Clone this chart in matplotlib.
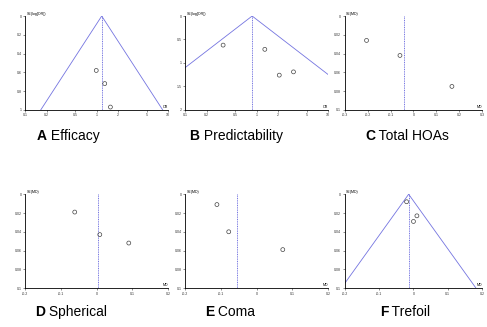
import numpy as np
import matplotlib
matplotlib.use("Agg")
import matplotlib.pyplot as plt

plt.rcParams['font.family'] = ['Liberation Sans', 'DejaVu Sans']

# ---- data ----
# A Efficacy (OR, log x)
a_or = [0.99, 1.30, 1.56]
a_se = [0.58, 0.72, 0.97]
a_pool = 1.18
# B Predictability (OR, log x)
b_or = [0.34, 1.30, 2.07, 3.27]
b_se = [0.62, 0.71, 1.26, 1.19]
b_pool = 0.865
# C Total HOAs (MD)
c_md = [-0.205, -0.059, 0.168]
c_se = [0.026, 0.042, 0.075]
c_pool = -0.043
# D Spherical (MD)
d_md = [-0.061, 0.009, 0.090]
d_se = [0.019, 0.043, 0.052]
d_pool = 0.003
# E Coma (MD)
e_md = [-0.111, -0.078, 0.073]
e_se = [0.011, 0.040, 0.059]
e_pool = -0.056
# F Trefoil (MD)
f_md = [-0.020, 0.010, 0.000]
f_se = [0.008, 0.023, 0.029]
f_pool = -0.014

or_ticks = [0.1, 0.2, 0.5, 1, 2, 5, 10]
or_labels = ['0.1', '0.2', '0.5', '1', '2', '5', '10']

blue = '#7474e0'

fig = plt.figure(figsize=(4.87, 3.27), dpi=100)


def funnel_ax(rect, xs, ses, pool, ymax, yticks, ylabel, xlim, xticks, xlabels,
              xname, logx=False, funnel=False):
    ax = fig.add_axes(rect)
    if logx:
        ax.set_xscale('log')
    ax.set_xlim(*xlim)
    ax.set_ylim(ymax, 0)
    if funnel:
        s = np.array([0, ymax])
        if logx:
            ax.plot(pool * np.exp(-1.96 * s), s, color=blue, lw=0.6)
            ax.plot(pool * np.exp(1.96 * s), s, color=blue, lw=0.6)
        else:
            ax.plot(pool - 1.96 * s, s, color=blue, lw=0.6)
            ax.plot(pool + 1.96 * s, s, color=blue, lw=0.6)
    ax.plot([pool, pool], [0, ymax], color=blue, lw=0.7, ls=(0, (1, 0.8)))
    ax.scatter(xs, ses, s=8, facecolors='none', edgecolors='#444444', linewidths=0.5,
               zorder=3, clip_on=False)
    ax.set_xticks(xticks)
    ax.set_xticklabels(xlabels)
    ax.minorticks_off()
    ax.set_yticks(yticks)
    ax.set_yticklabels([('%g' % v) for v in yticks])
    ax.tick_params(labelsize=2.6, length=1.5, width=0.4, pad=1, colors='#333333')
    for sp in ['top', 'right']:
        ax.spines[sp].set_visible(False)
    for sp in ['left', 'bottom']:
        ax.spines[sp].set_linewidth(0.6)
    ax.text(0.01, 1.0, ylabel, transform=ax.transAxes, fontsize=2.6, va='bottom', ha='left')
    ax.text(1.0, 0.01, xname, transform=ax.transAxes, fontsize=2.6, va='bottom', ha='right')
    return ax


w, h = 0.294, 0.287
top_b, bot_b = 0.664, 0.119
md_ticks = [0, 0.02, 0.04, 0.06, 0.08, 0.1]

funnel_ax([0.0513, top_b, w, h], a_or, a_se, a_pool, 1.0, [0, 0.2, 0.4, 0.6, 0.8, 1],
          'SE(log[OR])', (0.1, 10), or_ticks, or_labels, 'OR', logx=True, funnel=True)
funnel_ax([0.380, top_b, w, h], b_or, b_se, b_pool, 2.0, [0, 0.5, 1, 1.5, 2],
          'SE(log[OR])', (0.1, 10), or_ticks, or_labels, 'OR', logx=True, funnel=True)
funnel_ax([0.708, top_b, 0.282, h], c_md, c_se, c_pool, 0.1, md_ticks, 'SE(MD)',
          (-0.3, 0.3), [-0.3, -0.2, -0.1, 0, 0.1, 0.2, 0.3],
          ['-0.3', '-0.2', '-0.1', '0', '0.1', '0.2', '0.3'], 'MD')
md2 = [-0.2, -0.1, 0, 0.1, 0.2]
md2l = ['-0.2', '-0.1', '0', '0.1', '0.2']
funnel_ax([0.0513, bot_b, w, h], d_md, d_se, d_pool, 0.1, md_ticks, 'SE(MD)',
          (-0.2, 0.2), md2, md2l, 'MD')
funnel_ax([0.380, bot_b, w, h], e_md, e_se, e_pool, 0.1, md_ticks, 'SE(MD)',
          (-0.2, 0.2), md2, md2l, 'MD')
funnel_ax([0.708, bot_b, 0.282, h], f_md, f_se, f_pool, 0.1, md_ticks, 'SE(MD)',
          (-0.2, 0.2), md2, md2l, 'MD', funnel=True)

# panel captions: bold letter + normal name, centred
captions = [('A', 'Efficacy', 68, 136), ('B', 'Predictability', 236, 136),
            ('C', 'Total HOAs', 407, 136), ('D', 'Spherical', 71, 312),
            ('E', 'Coma', 230, 312), ('F', 'Trefoil', 405, 312)]
fig.canvas.draw()
r = fig.canvas.get_renderer()
W, H = 487, 327
for letter, name, cx, cy in captions:
    t1 = fig.text(0, 0, letter, fontsize=10, weight='bold', va='center')
    t2 = fig.text(0, 0, ' ' + name, fontsize=10, va='center')
    w1 = t1.get_window_extent(r).width
    w2 = t2.get_window_extent(r).width
    x0 = cx - (w1 + w2) / 2
    t1.set_position((x0 / W, 1 - cy / H))
    t2.set_position(((x0 + w1) / W, 1 - cy / H))

fig.savefig('out.png', dpi=100)
